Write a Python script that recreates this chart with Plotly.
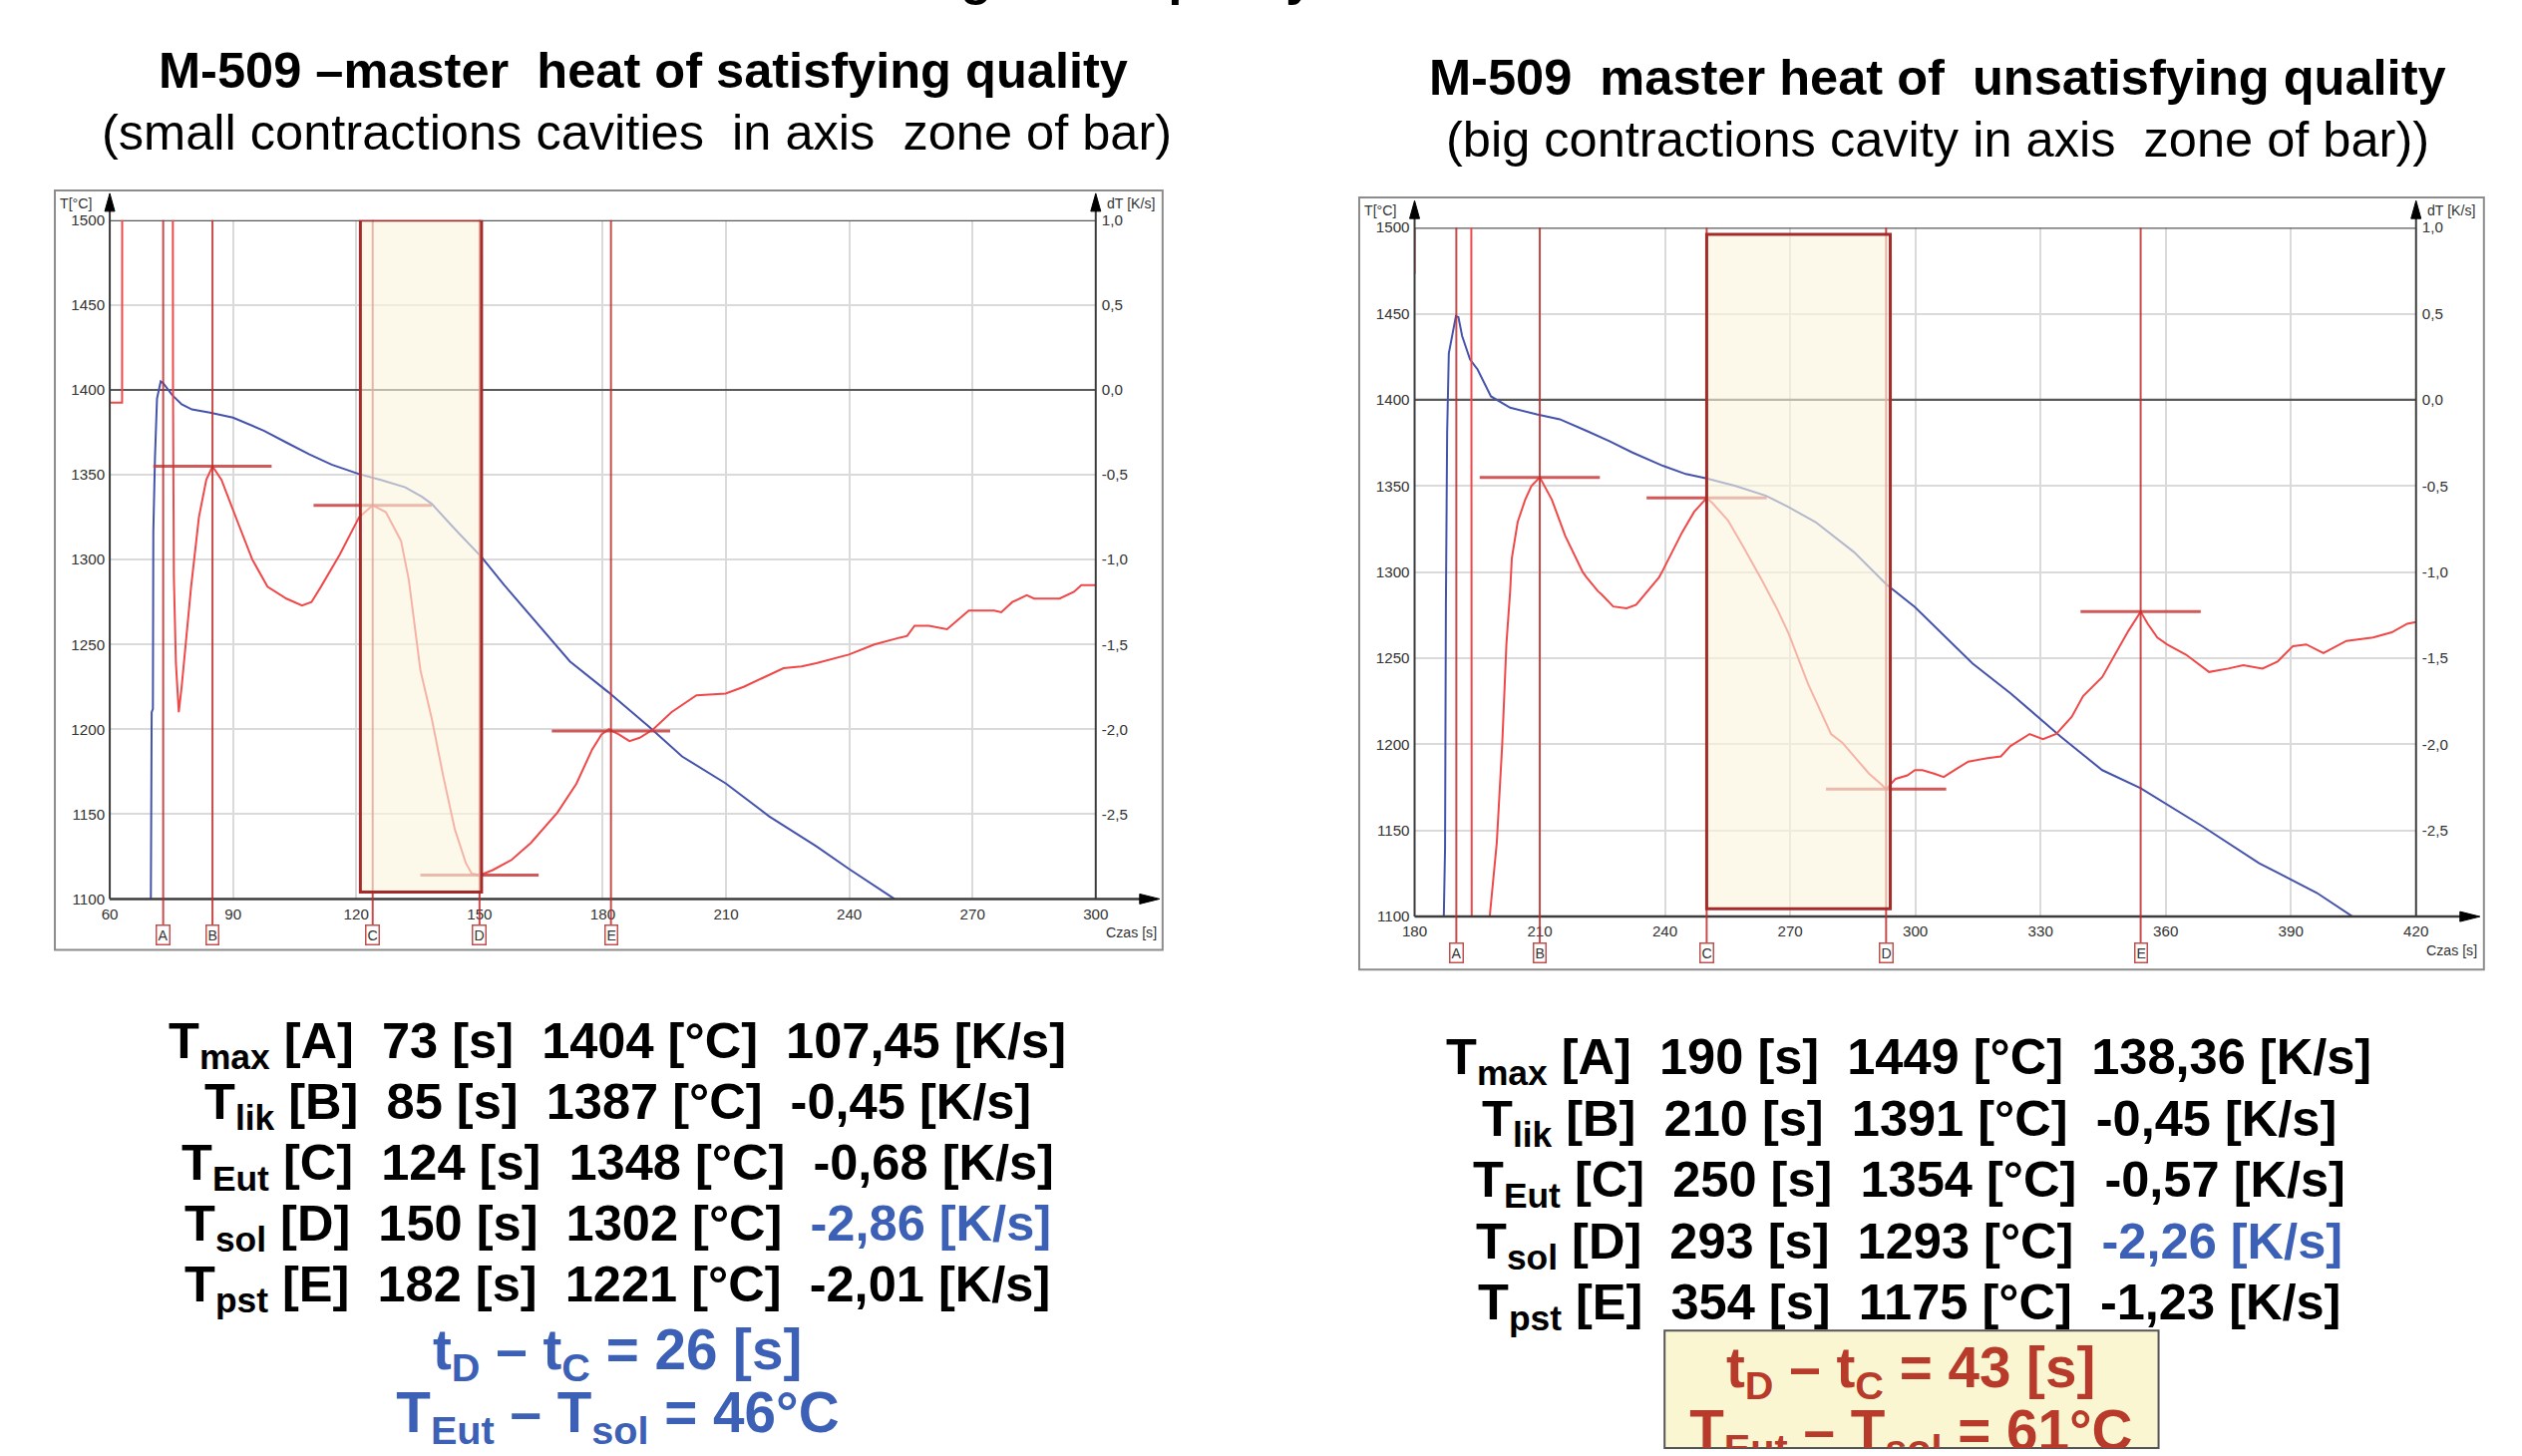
import plotly.graph_objects as go

# Target positions are given in pixels of the final picture. The photographed page comes out
# slightly shrunk and offset (~0.989 scale, +13/+10 px), so positions are pre-compensated.
W, H = 2529, 1460
SC, OX, OY = 0.989, 13.0, 10.0
def px(x):
    return ((x - OX) / SC) / W
def py(y):
    return 1 - ((y - OY) / SC) / H
def fs(s):
    return s / SC

FONT = "Liberation Sans, Arial, sans-serif"

# ---------------- data: left chart (satisfying quality) ----------------
left_time_T = [70, 70.2, 70.5, 70.6, 71, 71.5, 72.4, 73, 75.2, 77.5, 80, 84.4, 90, 97.5, 103, 108.6,
               114, 120.7, 126, 131.9, 136, 138.4, 144, 150.5, 156, 166.3, 172, 181.3, 191.2, 199.3,
               210, 220.5, 232, 240, 251]
left_T = [1100, 1210, 1212, 1316, 1360, 1395, 1405, 1404, 1397, 1391.5, 1388.5, 1386.6, 1383.7, 1376,
          1369, 1362, 1356, 1350.4, 1347, 1342.6, 1337, 1332.8, 1318, 1301.5, 1285, 1256, 1240, 1222,
          1201.6, 1184, 1168, 1148.7, 1131, 1117.6, 1100]
left_time_dT = [60, 63, 63.1, 75, 75.2, 75.4, 75.6, 76.1, 76.8, 77.5, 78.4, 79.8, 81.7, 83.5, 85, 87.2,
                91, 94.7, 98.4, 100.3, 103, 106.8, 109.1, 111.4, 116, 120.7, 124, 127.2, 130.9, 132.8,
                135.6, 138.4, 141.2, 144, 146.7, 148.1, 150, 153.2, 157.8, 162.5, 169, 173.6, 177.4,
                179.7, 181.5, 183.9, 186.5, 189, 192.3, 196.7, 202.8, 209.9, 214.3, 218.7, 224, 228.4,
                232, 239.9, 246.1, 252.3, 254.1, 255.9, 259.4, 263.8, 269.1, 275.3, 277, 279.7, 283.2,
                285, 291.2, 294.7, 296.5, 300]
left_dT = [-0.075, -0.075, 5, 5, 5, 0, -1.1, -1.61, -1.9, -1.75, -1.5, -1.16, -0.75, -0.53, -0.45, -0.53,
           -0.77, -1.0, -1.16, -1.19, -1.23, -1.27, -1.25, -1.16, -0.97, -0.75, -0.68, -0.72, -0.89, -1.12,
           -1.65, -1.94, -2.28, -2.59, -2.79, -2.85, -2.86, -2.83, -2.77, -2.67, -2.49, -2.32, -2.12,
           -2.03, -2.0, -2.03, -2.07, -2.05, -2.0, -1.9, -1.8, -1.79, -1.75, -1.7, -1.64, -1.63,
           -1.61, -1.56, -1.5, -1.46, -1.45, -1.39, -1.39, -1.41, -1.3, -1.3, -1.31, -1.25, -1.21,
           -1.23, -1.23, -1.19, -1.15, -1.15]

# ---------------- data: right chart (unsatisfying quality) ----------------
right_time_T = [187, 187.3, 187.5, 187.8, 188.2, 189.9, 190.5, 191.4, 193.3, 195.1, 198.3, 202.9, 209.3,
                214.8, 221.2, 226.7, 232.2, 239.5, 245, 250, 256.9, 264.2, 269.7, 276.1, 285.3, 293,
                299.9, 307.3, 313.7, 322.9, 334.8, 344.8, 354, 368.7, 382.4, 396.2, 404.8]
right_T = [1100, 1140, 1280, 1381, 1427, 1448.5, 1448, 1437, 1423.4, 1417.6, 1402, 1395.4, 1391.6,
           1388.7, 1382, 1376, 1369.4, 1361.7, 1356.9, 1354.3, 1350, 1344.3, 1337.6, 1329, 1311.6, 1293,
           1279.7, 1262.3, 1247, 1229.5, 1204.5, 1185, 1174.5, 1152.6, 1131, 1113.8, 1100]
right_time_dT = [180, 180, 180.2, 193.3, 193.5, 193.7, 197.8, 198, 199.7, 201, 202, 202.9, 203.3, 204.7,
                 206.5, 208, 210, 212.9, 216.1, 220.3, 221.2, 223.9, 224.8, 227.6, 230.8, 233.1, 235.8,
                 238.6, 239.5, 244.1, 247, 250, 251.4, 255.1, 258.7, 263.3, 267, 269.7, 274.3, 279.8,
                 282.5, 285.3, 288.9, 291.7, 293, 295.3, 298.1, 299.9, 301.7, 304.5, 306.8, 310, 312.7,
                 317.3, 320.5, 322.8, 327.4, 330.6, 333.8, 337.5, 340.2, 344.8, 348, 351.1, 354, 355.7,
                 358, 360.3, 364.9, 370.4, 375, 378.6, 383.2, 386.8, 390.5, 393.7, 397.8, 403.3, 409.7,
                 414.2, 417.9, 420]
right_dT = [5, 0.73, 5, 5, 5, -3.3, -3.3, -3.0, -2.57, -2.0, -1.42, -1.11, -0.92, -0.71,
            -0.58, -0.5, -0.45, -0.58, -0.79, -1.0, -1.03, -1.11, -1.13, -1.2, -1.21, -1.19, -1.11,
            -1.03, -0.99, -0.77, -0.65, -0.57, -0.6, -0.7, -0.85, -1.05, -1.22, -1.36, -1.65, -1.94,
            -1.99, -2.07, -2.17, -2.23, -2.26, -2.2, -2.18, -2.15, -2.15, -2.17, -2.19, -2.14, -2.1,
            -2.08, -2.07, -2.01, -1.94, -1.97, -1.94, -1.84, -1.72, -1.61, -1.47, -1.34, -1.23, -1.3,
            -1.38, -1.42, -1.48, -1.58, -1.56, -1.54, -1.56, -1.52, -1.43, -1.42, -1.47, -1.4, -1.38,
            -1.35, -1.3, -1.29]

# ---------------- characteristic points ----------------
marker_labels = ["A", "B", "C", "D", "E"]
row_names = ["max", "lik", "Eut", "sol", "pst"]
left_marker_t = [73, 85, 124, 150, 182]
left_marker_T = [1404, 1387, 1348, 1302, 1221]
left_marker_dT = [107.45, -0.45, -0.68, -2.86, -2.01]
right_marker_t = [190, 210, 250, 293, 354]
right_marker_T = [1449, 1391, 1354, 1293, 1175]
right_marker_dT = [138.36, -0.45, -0.57, -2.26, -1.23]

left_window_t = [121, 150.5]
left_window_T = [1104, 1500]
right_window_t = [250, 294]
right_window_T = [1104.5, 1496]

T_ticks = [1100, 1150, 1200, 1250, 1300, 1350, 1400, 1450, 1500]
dT_ticks = [1.0, 0.5, 0.0, -0.5, -1.0, -1.5, -2.0, -2.5]
left_x_ticks = [60, 90, 120, 150, 180, 210, 240, 270, 300]
right_x_ticks = [180, 210, 240, 270, 300, 330, 360, 390, 420]

BLUE = "#4553ad"
RED = "#f04848"
MRED = "rgba(190,45,45,0.85)"
GRID = "#dadada"
DARK = "#3c3c3c"
TXTBLUE = "#3b60b5"
TXTRED = "#b83a2a"

def comma(v, nd=1):
    return f"{v:.{nd}f}".replace(".", ",")

fig = go.Figure()

# chart geometry (target pixels)
L = dict(x0=110, x1=1098, y0=222, y1=903, box=(55, 192, 1165, 954), lab_y=939,
         xa="x", ya="y", ya2="y2", xr=(60, 300))
R = dict(x0=1417.5, x1=2421, y0=229.3, y1=920.7, box=(1362, 199, 2489, 974), lab_y=957,
         xa="x2", ya="y3", ya2="y4", xr=(180, 420))

# traces
fig.add_trace(go.Scatter(x=left_time_T, y=left_T, mode="lines", line=dict(color=BLUE, width=2),
                         xaxis="x", yaxis="y", showlegend=False))
fig.add_trace(go.Scatter(x=left_time_dT, y=left_dT, mode="lines", line=dict(color=RED, width=2),
                         xaxis="x", yaxis="y2", showlegend=False))
fig.add_trace(go.Scatter(x=right_time_T, y=right_T, mode="lines", line=dict(color=BLUE, width=2),
                         xaxis="x2", yaxis="y3", showlegend=False))
fig.add_trace(go.Scatter(x=right_time_dT, y=right_dT, mode="lines", line=dict(color=RED, width=2),
                         xaxis="x2", yaxis="y4", showlegend=False))

# horizontal tangent markers at characteristic points
for mt, mdT, xa, ya in [(left_marker_t, left_marker_dT, "x", "y2"), (right_marker_t, right_marker_dT, "x2", "y4")]:
    for t, d in zip(mt, mdT):
        fig.add_trace(go.Scatter(x=[t - 14.4, t + 14.4], y=[d, d], mode="lines",
                                 line=dict(color="rgba(200,60,60,0.85)", width=3),
                                 xaxis=xa, yaxis=ya, showlegend=False))

shapes = []
annotations = []

def axis_dict(dom, rng, tickvals, ticktext=None, **kw):
    d = dict(domain=dom, range=rng, tickvals=tickvals, showgrid=True, gridcolor=GRID, gridwidth=2,
             zeroline=False, showline=False, ticks="", fixedrange=True,
             tickfont=dict(family=FONT, size=fs(15), color="#333333"))
    if ticktext is not None:
        d["ticktext"] = ticktext
    d.update(kw)
    return d

layout_axes = {}
for C, xt, mt, mlab, win_t, win_T, xkey, ykey, y2key in [
        (L, left_x_ticks, left_marker_t, marker_labels, left_window_t, left_window_T, "xaxis", "yaxis", "yaxis2"),
        (R, right_x_ticks, right_marker_t, marker_labels, right_window_t, right_window_T, "xaxis2", "yaxis3", "yaxis4")]:
    xdom = [px(C["x0"]), px(C["x1"])]
    ydom = [py(C["y1"]), py(C["y0"])]
    layout_axes[xkey] = axis_dict(xdom, list(C["xr"]), xt, anchor=C["ya"], ticklabelstandoff=4)
    layout_axes[ykey] = axis_dict(ydom, [1100, 1500], T_ticks, anchor=C["xa"], ticklabelstandoff=4)
    layout_axes[y2key] = dict(domain=ydom, range=[-3, 1], tickvals=dT_ticks,
                              ticktext=[comma(v) for v in dT_ticks], overlaying=C["ya"], side="right",
                              anchor=C["xa"], showgrid=False, zeroline=False, showline=False, ticks="",
                              fixedrange=True, ticklabelstandoff=5,
                              tickfont=dict(family=FONT, size=fs(15), color="#333333"))
    xa, ya = C["xa"], C["ya"]
    x0, x1, y0, y1 = C["x0"], C["x1"], C["y0"], C["y1"]
    # outer frame
    bx0, by0, bx1, by1 = C["box"]
    shapes.append(dict(type="rect", xref="paper", yref="paper", x0=px(bx0), x1=px(bx1), y0=py(by1), y1=py(by0),
                       line=dict(color="#8c8c8c", width=2), layer="below"))
    # dark reference lines (1400 = 0 K/s and top 1500)
    for tv, wv in [(1400, 2.2), (1500, 2.5)]:
        shapes.append(dict(type="line", xref=xa, yref=ya, x0=C["xr"][0], x1=C["xr"][1], y0=tv, y1=tv,
                           line=dict(color="#5a5a5a", width=wv), layer="between"))
    # axes lines
    shapes.append(dict(type="line", xref="paper", yref="paper", x0=px(x0), x1=px(x0), y0=py(y1), y1=py(y0 - 12),
                       line=dict(color=DARK, width=2)))
    shapes.append(dict(type="line", xref="paper", yref="paper", x0=px(x1), x1=px(x1), y0=py(y1), y1=py(y0 - 12),
                       line=dict(color=DARK, width=2)))
    shapes.append(dict(type="line", xref="paper", yref="paper", x0=px(x0), x1=px(x1 + 50), y0=py(y1), y1=py(y1),
                       line=dict(color=DARK, width=2.5)))
    # arrow heads
    for ax_x in (x0, x1):
        shapes.append(dict(type="path", xref="paper", yref="paper",
                           path=f"M {px(ax_x)} {py(y0 - 27)} L {px(ax_x - 5)} {py(y0 - 9)} L {px(ax_x + 5)} {py(y0 - 9)} Z",
                           fillcolor="#000000", line=dict(color="#000000", width=1)))
    shapes.append(dict(type="path", xref="paper", yref="paper",
                       path=f"M {px(x1 + 64)} {py(y1)} L {px(x1 + 44)} {py(y1 - 5)} L {px(x1 + 44)} {py(y1 + 5)} Z",
                       fillcolor="#000000", line=dict(color="#000000", width=1)))
    # vertical characteristic lines + labels
    for t, lab in zip(mt, mlab):
        shapes.append(dict(type="line", xref=xa, yref="paper", x0=t, x1=t, y0=py(C["lab_y"] - 9), y1=py(y0),
                           line=dict(color=MRED, width=2), layer="above"))
        annotations.append(dict(x=t, y=py(C["lab_y"]), xref=xa, yref="paper", text=lab, showarrow=False,
                                font=dict(family=FONT, size=fs(14), color="#333333"), bgcolor="white",
                                bordercolor="#c0504d", borderwidth=1.5, borderpad=1,
                                xanchor="center", yanchor="middle"))
    # solidification window
    shapes.append(dict(type="rect", xref=xa, yref=ya, x0=win_t[0], x1=win_t[1], y0=win_T[0], y1=win_T[1],
                       fillcolor="rgba(250,246,222,0.62)", line=dict(color="#a52a2a", width=3), layer="above"))
    # axis titles
    annotations.append(dict(x=px(x0 - 52), y=py(y0 - 17), xref="paper", yref="paper", text="T[°C]",
                            showarrow=False, xanchor="left", yanchor="middle",
                            font=dict(family=FONT, size=fs(14), color="#333333")))
    annotations.append(dict(x=px(x1 + 9), y=py(y0 - 17), xref="paper", yref="paper", text="dT [K/s]",
                            showarrow=False, xanchor="left", yanchor="middle",
                            font=dict(family=FONT, size=fs(14), color="#333333")))
    annotations.append(dict(x=px(x1 + 63), y=py(y1 + 34), xref="paper", yref="paper", text="Czas [s]",
                            showarrow=False, xanchor="right", yanchor="middle",
                            font=dict(family=FONT, size=fs(14), color="#333333")))

# ---------------- titles ----------------
def ann(x, y, text, size, color="black", bold=False, xanchor="center"):
    t = f"<b>{text}</b>" if bold else text
    annotations.append(dict(x=px(x), y=py(y), xref="paper", yref="paper", text=t, showarrow=False,
                            xanchor=xanchor, yanchor="middle",
                            font=dict(family=FONT, size=fs(size), color=color)))

NB = "\u00a0"
ann(72, -22, "ATD curves of M-509 heats of differing metal quality", 50, bold=True, xanchor="left")
ann(645, 72, f"M-509 –master{NB}{NB}heat of satisfying quality", 50, bold=True)
ann(638, 134, f"(small contractions cavities{NB}{NB}in axis{NB}{NB}zone of bar)", 50)
ann(1942, 79, f"M-509{NB}{NB}master heat of{NB}{NB}unsatisfying quality", 50, bold=True)
ann(1942, 141, f"(big contractions cavity in axis{NB}{NB}zone of bar))", 50)

# ---------------- result tables ----------------
def rows(mt, mT, mdT):
    out = []
    for i in range(5):
        dtxt = f"{comma(mdT[i], 2)} [K/s]"
        if i == 3:
            dtxt = f"<span style='color:{TXTBLUE}'>{dtxt}</span>"
        out.append(f"T<sub>{row_names[i]}</sub> [{marker_labels[i]}]{NB}{NB}{mt[i]} [s]{NB}{NB}"
                   f"{mT[i]} [°C]{NB}{NB}{dtxt}")
    return out

for i, r in enumerate(rows(left_marker_t, left_marker_T, left_marker_dT)):
    ann(619, 1049 + 61 * i, r, 50, bold=True)
for i, r in enumerate(rows(right_marker_t, right_marker_T, right_marker_dT)):
    ann(1913, 1065 + 61.5 * i, r, 50, bold=True)

l_dt = left_marker_t[3] - left_marker_t[2]
l_dT = left_marker_T[2] - left_marker_T[3]
r_dt = right_marker_t[3] - right_marker_t[2]
r_dT = right_marker_T[2] - right_marker_T[3]

ann(619, 1359, f"t<sub>D</sub> – t<sub>C</sub> = {l_dt} [s]", 56, color=TXTBLUE, bold=True)

shapes.append(dict(type="rect", xref="paper", yref="paper", x0=px(1668), x1=px(2163), y0=0, y1=py(1336),
                   fillcolor="#faf6d2", line=dict(color="#555555", width=2), layer="below"))
ann(1915, 1377, f"t<sub>D</sub> – t<sub>C</sub> = {r_dt} [s]", 56, color=TXTRED, bold=True)

# bottom-most formula lines: drawn as text on a hidden subplot so they are clipped at the page edge
bottom_edge = OY + SC * H
fig.add_trace(go.Scatter(
    x=[619, 1915], y=[1424, 1442], mode="text",
    text=[f"<b>T<sub>Eut</sub> – T<sub>sol</sub> = {l_dT}°C</b>",
          f"<b>T<sub>Eut</sub> – T<sub>sol</sub> = {r_dT}°C</b>"],
    textposition="middle center", cliponaxis=True,
    textfont=dict(family=FONT, size=fs(56), color=[TXTBLUE, TXTRED]),
    xaxis="x3", yaxis="y5", showlegend=False, hoverinfo="skip"))
layout_axes["xaxis3"] = dict(domain=[0, 1], range=[OX, OX + SC * W], visible=False, fixedrange=True, anchor="y5")
layout_axes["yaxis5"] = dict(domain=[0, py(1300)], range=[bottom_edge, 1300], visible=False, fixedrange=True,
                             anchor="x3")

fig.update_layout(width=W, height=H, autosize=False, margin=dict(l=0, r=0, t=0, b=0),
                  paper_bgcolor="white", plot_bgcolor="rgba(0,0,0,0)", showlegend=False,
                  shapes=shapes, annotations=annotations, **layout_axes)

fig.write_html("out.html")
